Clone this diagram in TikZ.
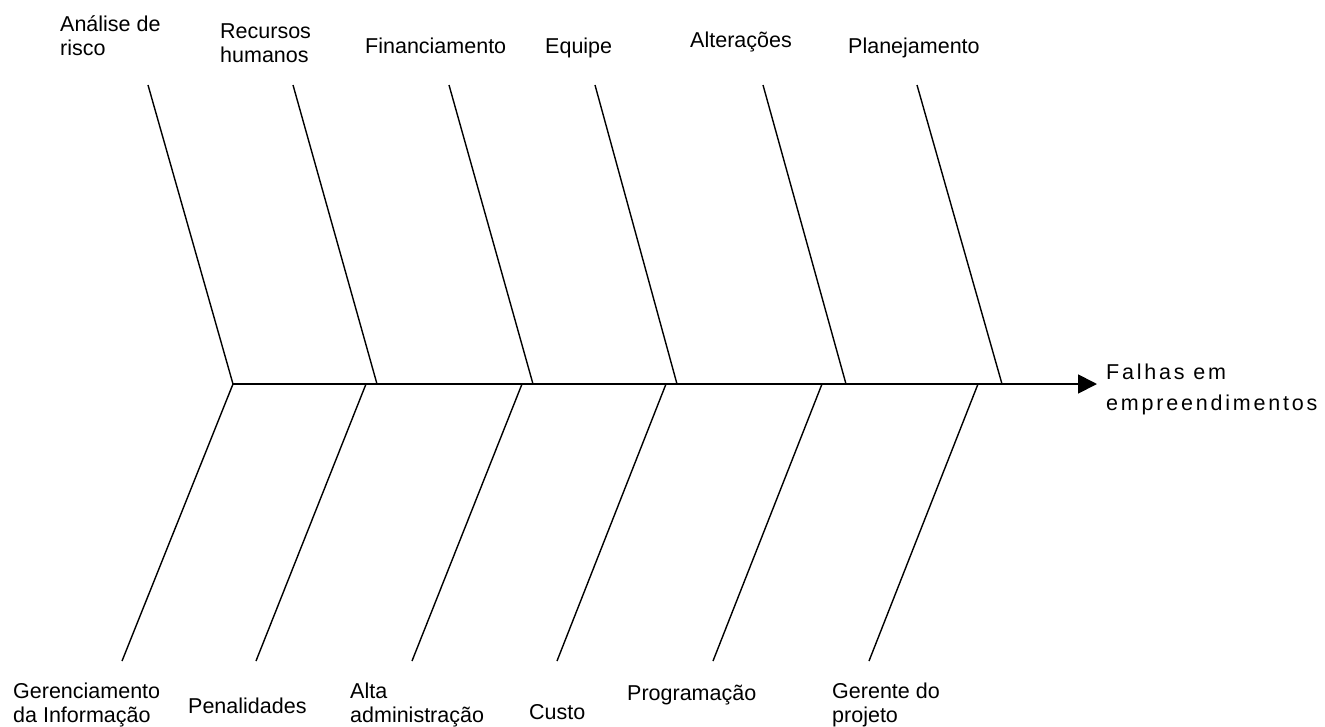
\documentclass[tikz,border=0pt]{standalone}
\usepackage{fontspec}
\setmainfont{Liberation Sans}
\usetikzlibrary{arrows.meta}
\begin{document}
\begin{tikzpicture}[x=1pt,y=-1pt,
  bone/.style={line width=1.4pt, black},
  spine/.style={line width=1.8pt, black, -{Triangle[length=19pt,width=19pt]}},
  lbl/.style={font=\fontsize{21.5}{24}\selectfont, inner sep=0pt, align=left, anchor=base west},
  biglbl/.style={font=\fontsize{21.5}{31}\selectfont\addfontfeature{LetterSpace=13}, inner sep=0pt, align=left, anchor=base west}]
\useasboundingbox (0,0) rectangle (1325,726);
% spine
\coordinate (tail) at (233,384);
\coordinate (head) at (1097,384);
\draw[spine] (tail) -- (head);
% upper bones
\coordinate (ut1) at (148,85);  \coordinate (us1) at (233,384);
\coordinate (ut2) at (293,85);  \coordinate (us2) at (377,384);
\coordinate (ut3) at (449,85);  \coordinate (us3) at (533,384);
\coordinate (ut4) at (595,85);  \coordinate (us4) at (677,384);
\coordinate (ut5) at (763,85);  \coordinate (us5) at (846,384);
\coordinate (ut6) at (917,85);  \coordinate (us6) at (1002,384);
\foreach \i in {1,...,6} \draw[bone] (ut\i) -- (us\i);
% lower bones
\coordinate (ls1) at (233,384); \coordinate (lb1) at (122,661);
\coordinate (ls2) at (366,384); \coordinate (lb2) at (256,661);
\coordinate (ls3) at (522,384); \coordinate (lb3) at (412,661);
\coordinate (ls4) at (666,384); \coordinate (lb4) at (557,661);
\coordinate (ls5) at (822,384); \coordinate (lb5) at (713,661);
\coordinate (ls6) at (978,384); \coordinate (lb6) at (869,661);
\foreach \i in {1,...,6} \draw[bone] (ls\i) -- (lb\i);
% labels top (base = baseline of last line)
\node[lbl] (analise) at (60,55) {Análise de\\risco};
\node[lbl] (recursos) at (220,62) {Recursos\\humanos};
\node[lbl] (financ) at (365,53) {Financiamento};
\node[lbl] (equipe) at (545,53) {Equipe};
\node[lbl] (alter) at (690,47) {Alterações};
\node[lbl] (planej) at (848,53) {Planejamento};
% effect
\node[biglbl] (falhas) at (1106,410) {Falhas em\\empreendimentos};
% labels bottom
\node[lbl] (gerinf) at (13,722) {Gerenciamento\\da Informação};
\node[lbl] (penal) at (188,713) {Penalidades};
\node[lbl] (alta) at (350,722) {Alta\\administração};
\node[lbl] (custo) at (529,719) {Custo};
\node[lbl] (prog) at (627,700) {Programação};
\node[lbl] (gerproj) at (832,722) {Gerente do\\projeto};
\end{tikzpicture}
\end{document}
